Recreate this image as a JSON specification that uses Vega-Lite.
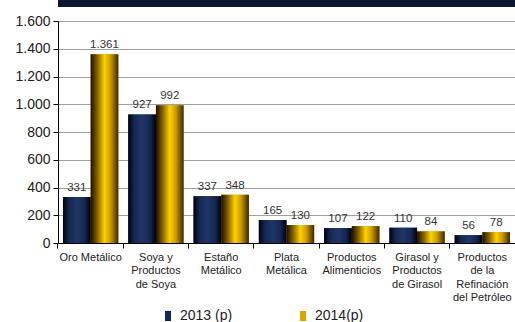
{
  "$schema": "https://vega.github.io/schema/vega-lite/v6.json",
  "padding": 0,
  "autosize": {"type": "pad"},
  "background": "white",
  "spacing": 7,
  "config": {
    "locale": {"number": {"decimal": ",", "thousands": ".", "grouping": [3], "currency": ["", ""]}},
    "font": "Liberation Sans",
    "view": {"stroke": null},
    "axisY": {"gridColor": "#a0a0a0", "gridOpacity": 1}
  },
  "vconcat": [
    {
      "width": 515,
      "height": 7,
      "data": {"values": [{"banda": "encabezado"}]},
      "mark": {"type": "rect", "color": "#0b1730"},
      "encoding": {}
    },
    {
      "width": 457,
      "height": 222,
      "data": {
        "values": [
          {"producto": "Oro Metálico", "periodo": "2013 (p)", "valor": 331},
          {"producto": "Oro Metálico", "periodo": "2014(p)", "valor": 1361},
          {"producto": "Soya y\nProductos\nde Soya", "periodo": "2013 (p)", "valor": 927},
          {"producto": "Soya y\nProductos\nde Soya", "periodo": "2014(p)", "valor": 992},
          {"producto": "Estaño\nMetálico", "periodo": "2013 (p)", "valor": 337},
          {"producto": "Estaño\nMetálico", "periodo": "2014(p)", "valor": 348},
          {"producto": "Plata\nMetálica", "periodo": "2013 (p)", "valor": 165},
          {"producto": "Plata\nMetálica", "periodo": "2014(p)", "valor": 130},
          {"producto": "Productos\nAlimenticios", "periodo": "2013 (p)", "valor": 107},
          {"producto": "Productos\nAlimenticios", "periodo": "2014(p)", "valor": 122},
          {"producto": "Girasol y\nProductos\nde Girasol", "periodo": "2013 (p)", "valor": 110},
          {"producto": "Girasol y\nProductos\nde Girasol", "periodo": "2014(p)", "valor": 84},
          {"producto": "Productos\nde la\nRefinación\ndel Petróleo", "periodo": "2013 (p)", "valor": 56},
          {"producto": "Productos\nde la\nRefinación\ndel Petróleo", "periodo": "2014(p)", "valor": 78}
        ]
      },
      "encoding": {
        "x": {
          "field": "producto",
          "type": "nominal",
          "sort": null,
          "scale": {"paddingInner": 0, "paddingOuter": 0},
          "axis": {
            "title": null,
            "labelAngle": 0,
            "labelExpr": "split(datum.label, '\\n')",
            "labelFontSize": 11,
            "labelColor": "#222222",
            "labelLineHeight": 13.5,
            "labelBaseline": "top",
            "labelPadding": 3,
            "labelLimit": 0,
            "bandPosition": 0,
            "tickSize": 5,
            "tickColor": "#000000",
            "domainColor": "#000000",
            "grid": false
          }
        },
        "xOffset": {
          "field": "periodo",
          "type": "nominal",
          "scale": {"domain": ["2013 (p)", "2014(p)"], "paddingInner": 0, "paddingOuter": 0.18}
        },
        "y": {
          "field": "valor",
          "type": "quantitative",
          "scale": {"domain": [0, 1600]},
          "axis": {
            "title": null,
            "tickCount": 8,
            "format": ",d",
            "labelFontSize": 14,
            "labelColor": "#222222",
            "labelPadding": 3,
            "tickSize": 5,
            "tickColor": "#000000",
            "domainColor": "#000000",
            "minExtent": 58,
            "grid": true,
            "gridColor": "#a0a0a0",
            "gridWidth": 1
          }
        }
      },
      "layer": [
        {
          "mark": {"type": "bar"},
          "encoding": {
            "color": {
              "field": "periodo",
              "type": "nominal",
              "scale": {"domain": ["2013 (p)", "2014(p)"], "range": ["#14285a", "#d9a800"]},
              "legend": {
                "title": null,
                "orient": "none",
                "legendX": 103,
                "legendY": 309,
                "direction": "horizontal",
                "symbolType": "M-0.6,-1H0.6V1H-0.6Z",
                "symbolSize": 100,
                "symbolStrokeWidth": 0,
                "labelFontSize": 14,
                "labelColor": "#222222",
                "labelOffset": 5,
                "columnPadding": 63
              }
            }
          }
        },
        {
          "transform": [{"filter": "datum.periodo == '2013 (p)'"}],
          "mark": {
            "type": "bar",
            "color": {"gradient": "linear", "x1": 0, "x2": 1, "y1": 0, "y2": 0, "stops": [
              {"offset": 0, "color": "#000008"},
              {"offset": 0.22, "color": "#142853"},
              {"offset": 0.5, "color": "#1f3668"},
              {"offset": 0.78, "color": "#142853"},
              {"offset": 1, "color": "#000008"}
            ]}
          }
        },
        {
          "transform": [{"filter": "datum.periodo == '2014(p)'"}],
          "mark": {
            "type": "bar",
            "color": {"gradient": "linear", "x1": 0, "x2": 1, "y1": 0, "y2": 0, "stops": [
              {"offset": 0, "color": "#1a0e00"},
              {"offset": 0.25, "color": "#8a6400"},
              {"offset": 0.5, "color": "#ffd200"},
              {"offset": 0.72, "color": "#c99a00"},
              {"offset": 1, "color": "#3a2600"}
            ]}
          }
        },
        {
          "mark": {"type": "text", "baseline": "bottom", "dy": -4, "fontSize": 11.5, "color": "#333333"},
          "encoding": {
            "text": {"field": "valor", "type": "quantitative", "format": ",d"}
          }
        }
      ]
    }
  ]
}
